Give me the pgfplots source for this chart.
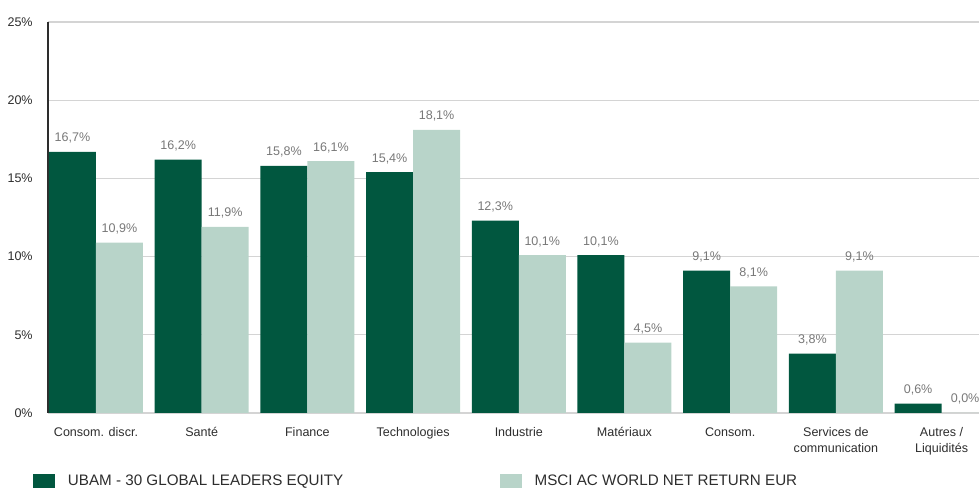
\documentclass[border=0pt]{standalone}
\usepackage{pgfplots}
\pgfplotsset{compat=1.18}
\usepackage{fontspec}
\setmainfont{Liberation Sans}
\definecolor{dkgreen}{RGB}{1,87,63}
\definecolor{ltgreen}{RGB}{184,212,201}
\definecolor{txt}{RGB}{45,45,45}
\definecolor{val}{RGB}{120,120,120}
\definecolor{gridc}{RGB}{212,212,212}
\begin{document}
\begin{tikzpicture}
\useasboundingbox (0,0) rectangle (734.25pt,366pt);
\begin{axis}[
  at={(36pt,56.25pt)}, anchor=south west,
  scale only axis, width=698.25pt, height=293.25pt,
  xmin=-0.454, xmax=8.354, ymin=0, ymax=25,
  ybar=0pt, bar width=35.25pt,
  axis y line*=left, axis x line*=bottom,
  y axis line style={color=txt, line width=0.8pt},
  x axis line style={color=gridc, line width=0.8pt},
  ymajorgrids, grid style={color=gridc, line width=0.8pt},
  ytick={0,5,...,25},
  yticklabel={\pgfmathprintnumber[assume math mode=true]{\tick}\%},
  xtick={0,...,8},
  xticklabels={Consom. discr., Santé, Finance, Technologies, Industrie, Matériaux, Consom., {Services de\\communication}, {Autres /\\Liquidités}},
  major tick length=0pt,
  tick label style={font=\fontsize{9.4}{11.6}\selectfont, text=txt},
  yticklabel style={xshift=-8pt},
  xticklabel style={align=center, anchor=north, yshift=-7.5pt},
  nodes near coords={\pgfmathprintnumber[fixed,fixed zerofill,precision=1,use comma,assume math mode=true]{\pgfplotspointmeta}\%},
  nodes near coords style={font=\fontsize{9.4}{11.6}\selectfont, text=val, anchor=base, yshift=7.5pt, inner sep=0pt},
  legend columns=2,
  legend image code/.code={\fill[#1] (0pt,-5.25pt) rectangle (16.5pt,5.25pt);},
  legend style={draw=none, fill=none, inner sep=0pt, at={(axis description cs:-0.0161,-0.174)}, anchor=west, font=\fontsize{11.4}{13}\selectfont, text=txt},
]
\addplot[fill=dkgreen, draw=none] coordinates {(0,16.7) (1,16.2) (2,15.8) (3,15.4) (4,12.3) (5,10.1) (6,9.1) (7,3.8) (8,0.6)};
\addlegendentry{\hspace*{7.5pt}\makebox[322pt][l]{UBAM - 30 GLOBAL LEADERS EQUITY}}
\addplot[fill=ltgreen, draw=none] coordinates {(0,10.9) (1,11.9) (2,16.1) (3,18.1) (4,10.1) (5,4.5) (6,8.1) (7,9.1) (8,0.0)};
\addlegendentry{\hspace*{7.5pt}MSCI AC WORLD NET RETURN EUR}
\end{axis}
\end{tikzpicture}
\end{document}
